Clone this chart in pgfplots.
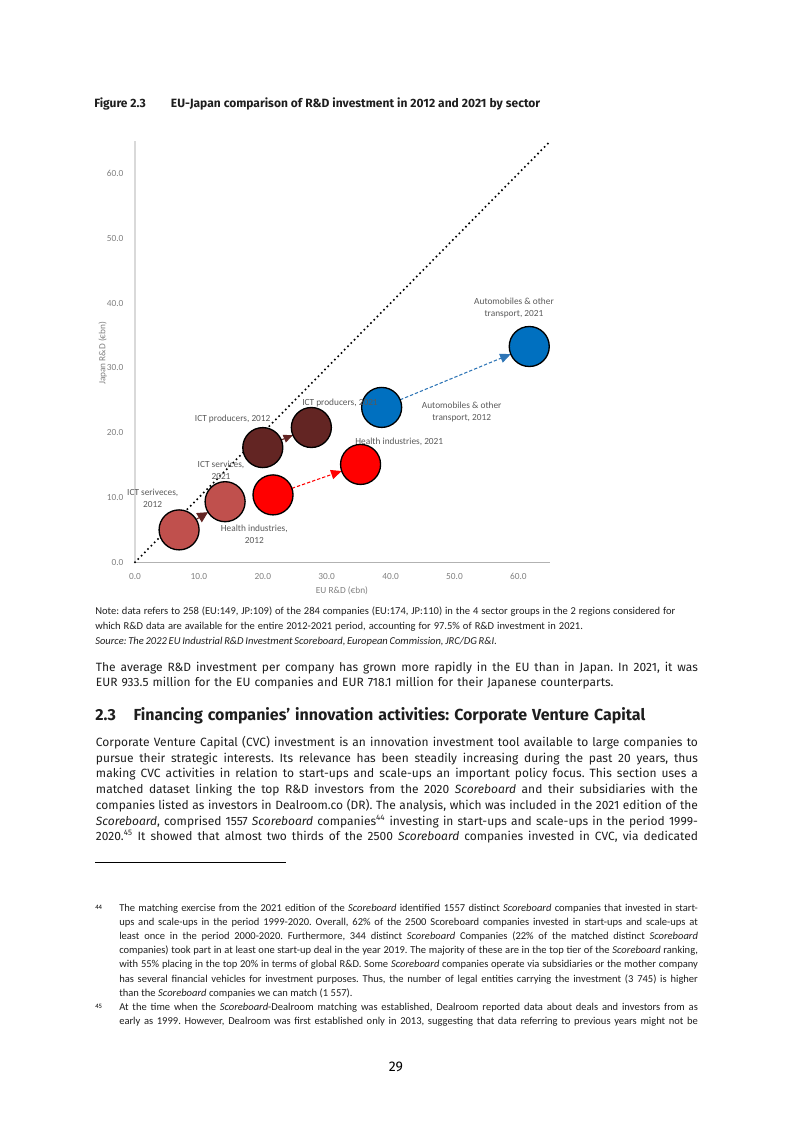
\documentclass[border=0pt]{standalone}
\usepackage{fontspec}
\setmainfont{Fira Sans}
\newfontfamily\calib{Carlito}
\usepackage{pgfplots}
\pgfplotsset{compat=1.18}
\usetikzlibrary{arrows.meta}
\definecolor{ictserv}{HTML}{C0504D}
\definecolor{health}{HTML}{FF0000}
\definecolor{ictprod}{HTML}{632523}
\definecolor{autoc}{HTML}{0070C0}
\definecolor{autoarr}{HTML}{2E75B6}
\definecolor{labc}{HTML}{595959}
\definecolor{tickc}{HTML}{808080}
\definecolor{bodyc}{HTML}{1E1E1E}
\newdimen\pxu \pxu=0.75pt
\newcommand\Ln[5]{\node[anchor=mid west,inner sep=0pt,font=#1,text=bodyc] at (#2,#3) {\frenchspacing\hbox to #4\pxu{#5}};}
\newcommand\bodyf{\fontsize{9}{11}\selectfont}
\newcommand\notef{\calib\fontsize{7.9}{9}\selectfont}
\newcommand\footf{\calib\fontsize{7.9}{9}\selectfont}
\newcommand\chartf{\calib\fontsize{7}{8.8}\selectfont}
\frenchspacing
\begin{document}
\begin{tikzpicture}
\path[use as bounding box] (0,0) rectangle (594.75pt,841.5pt);
\begin{axis}[
  at={(101.25pt,419.78pt)}, anchor=south west,
  x=4.7925pt, y=4.86pt,
  xmin=0, xmax=65, ymin=0, ymax=65,
  axis x line*=bottom, axis y line*=left,
  x axis line style={draw=black!30, line width=0.8pt},
  y axis line style={draw=black!15, line width=0.8pt},
  xtick={0,10,...,60}, ytick={0,10,...,60},
  major tick length=0pt,
  tick label style={font=\chartf, text=tickc},
  /pgf/number format/assume math mode=true,
  /pgf/number format/fixed, /pgf/number format/precision=1,
  /pgf/number format/fixed zerofill,
  xticklabel style={yshift=-4.9pt},
  yticklabel style={xshift=-5.2pt},
  clip=false,
]
% 45 degree line
\addplot[black, line width=1.7pt, line cap=round, dash pattern=on 0pt off 3.5pt] coordinates {(0,0) (65,65)};
% arrows
\addplot[ictprod, line width=0.8pt, dash pattern=on 2.5pt off 1.5pt, shorten <=15pt, shorten >=15pt, -{Triangle[length=8pt,width=8pt]}] coordinates {(6.9,5.0) (14.1,9.35)};
\addplot[ictprod, line width=0.8pt, dash pattern=on 2.5pt off 1.5pt, shorten <=15pt, shorten >=15pt, -{Triangle[length=7pt,width=6pt]}] coordinates {(20.0,17.7) (27.6,20.8)};
\addplot[health, line width=0.8pt, dash pattern=on 2.5pt off 1.5pt, shorten <=15pt, shorten >=15pt, -{Triangle[length=8pt,width=7pt]}] coordinates {(21.6,10.4) (35.3,15.1)};
\addplot[autoarr, line width=0.8pt, dash pattern=on 2.5pt off 1.5pt, shorten <=15pt, shorten >=15pt, -{Triangle[length=8pt,width=7pt]}] coordinates {(38.6,23.9) (61.7,33.3)};
% bubbles
\addplot[only marks, mark=*, mark size=15pt, mark options={fill=ictserv, draw=black, line width=1pt}] coordinates {(6.9,5.0) (14.1,9.35)};
\addplot[only marks, mark=*, mark size=15pt, mark options={fill=health, draw=black, line width=1pt}] coordinates {(21.6,10.4) (35.3,15.1)};
\addplot[only marks, mark=*, mark size=15pt, mark options={fill=ictprod, draw=black, line width=1pt}] coordinates {(20.0,17.7) (27.6,20.8)};
\addplot[only marks, mark=*, mark size=15pt, mark options={fill=autoc, draw=black, line width=1pt}] coordinates {(38.6,23.9) (61.7,33.3)};
\end{axis}
\begin{scope}[x=0.75pt, y=-0.75pt, shift={(0pt,841.5pt)}]
% bubble labels
\begin{scope}[every node/.style={font=\chartf, text=labc, align=center, inner sep=0pt}]
\node at (514,308.2) {Automobiles \& other\\transport, 2021};
\node at (461.7,412) {Automobiles \& other\\transport, 2012};
\node at (340,403.3) {ICT producers, 2021};
\node at (232.7,418.7) {ICT producers, 2012};
\node at (399.3,441.7) {Health industries, 2021};
\node at (221,470) {ICT services,\\2021};
\node at (152.7,498.5) {ICT seriveces,\\2012};
\node at (254.3,534.2) {Health industries,\\2012};
\end{scope}
% axis titles
\node[font=\chartf, text=tickc, rotate=90, inner sep=0pt] at (102.7,353.3) {Japan R\&D (€bn)};
\node[font=\chartf, text=tickc, inner sep=0pt] at (342,591) {EU R\&D (€bn)};
% figure title
\node[anchor=mid west,inner sep=0pt,font=\bfseries\fontsize{9}{10}\selectfont,text=bodyc] at (94,104) {Figure 2.3};
\Ln{\bfseries\fontsize{9}{10}\selectfont}{170.7}{104}{369.3}{EU-Japan comparison of R\&D investment in 2012 and 2021 by sector}
% note
\Ln{\notef}{95}{610.7}{580}{Note: data refers to 258 (EU:149, JP:109) of the 284 companies (EU:174, JP:110) in the 4 sector groups in the 2 regions considered for}
\Ln{\notef}{95}{625.7}{487.7}{which R\&D data are available for the entire 2012-2021 period, accounting for 97.5\% of R\&D investment in 2021.}
\Ln{\notef\itshape}{95}{640.7}{401.7}{Source: The 2022 EU Industrial R\&D Investment Scoreboard, European Commission, JRC/DG R\&I.}
% body
\Ln{\bodyf}{95.7}{667.7}{602}{The average R\&D investment per company has grown more rapidly in the EU than in Japan. In 2021, it was}
\Ln{\bodyf}{95.7}{682.7}{517.6}{EUR 933.5 million for the EU companies and EUR 718.1 million for their Japanese counterparts.}
% heading
\node[anchor=mid west,inner sep=0pt,font=\bfseries\fontsize{12}{13}\selectfont,text=bodyc] at (95,717.3) {2.3};
\Ln{\bfseries\fontsize{12}{13}\selectfont}{133.3}{717.3}{511.7}{Financing companies’ innovation activities: Corporate Venture Capital}
% paragraph
\Ln{\bodyf}{95.7}{743.3}{602}{Corporate Venture Capital (CVC) investment is an innovation investment tool available to large companies to}
\Ln{\bodyf}{95.7}{758.7}{602}{pursue their strategic interests. Its relevance has been steadily increasing during the past 20 years, thus}
\Ln{\bodyf}{95.7}{774.0}{602}{making CVC activities in relation to start-ups and scale-ups an important policy focus. This section uses a}
\Ln{\bodyf}{95.7}{790.0}{602}{matched dataset linking the top R\&D investors from the 2020 \textit{Scoreboard} and their subsidiaries with the}
\Ln{\bodyf}{95.7}{806.0}{602}{companies listed as investors in Dealroom.co (DR). The analysis, which was included in the 2021 edition of the}
\Ln{\bodyf}{95.7}{821.7}{602}{\textit{Scoreboard}, comprised 1557 \textit{Scoreboard} companies\textsuperscript{44} investing in start-ups and scale-ups in the period 1999-}
\Ln{\bodyf}{95.7}{837.0}{602}{2020.\textsuperscript{45} It showed that almost two thirds of the 2500 \textit{Scoreboard} companies invested in CVC, via dedicated}
\draw[line width=0.6pt, black] (95,862.7) -- (286,862.7);
% footnotes
\node[anchor=mid west, inner sep=0pt, font=\calib\fontsize{5}{6}\selectfont] at (95,905.5) {44};
\Ln{\footf}{119}{908}{578.7}{The matching exercise from the 2021 edition of the \textit{Scoreboard} identified 1557 distinct \textit{Scoreboard} companies that invested in start-}
\Ln{\footf}{119}{922}{578.7}{ups and scale-ups in the period 1999-2020. Overall, 62\% of the 2500 Scoreboard companies invested in start-ups and scale-ups at}
\Ln{\footf}{119}{936}{578.7}{least once in the period 2000-2020. Furthermore, 344 distinct \textit{Scoreboard} Companies (22\% of the matched distinct \textit{Scoreboard}}
\Ln{\footf}{119}{950.3}{578.7}{companies) took part in at least one start-up deal in the year 2019. The majority of these are in the top tier of the \textit{Scoreboard} ranking,}
\Ln{\footf}{119}{964.3}{578.7}{with 55\% placing in the top 20\% in terms of global R\&D. Some \textit{Scoreboard} companies operate via subsidiaries or the mother company}
\Ln{\footf}{119}{978.7}{578.7}{has several financial vehicles for investment purposes. Thus, the number of legal entities carrying the investment (3 745) is higher}
\Ln{\footf}{119}{992.7}{233.3}{than the \textit{Scoreboard} companies we can match (1 557).}
\node[anchor=mid west, inner sep=0pt, font=\calib\fontsize{5}{6}\selectfont] at (95,1004.5) {45};
\Ln{\footf}{119}{1007}{578.7}{At the time when the \textit{Scoreboard}-Dealroom matching was established, Dealroom reported data about deals and investors from as}
\Ln{\footf}{119}{1021}{578.7}{early as 1999. However, Dealroom was first established only in 2013, suggesting that data referring to previous years might not be}
% page number
\node[font=\fontsize{10.5}{12}\selectfont, inner sep=0pt, anchor=mid] at (396,1068) {29};
\end{scope}
\end{tikzpicture}
\end{document}
